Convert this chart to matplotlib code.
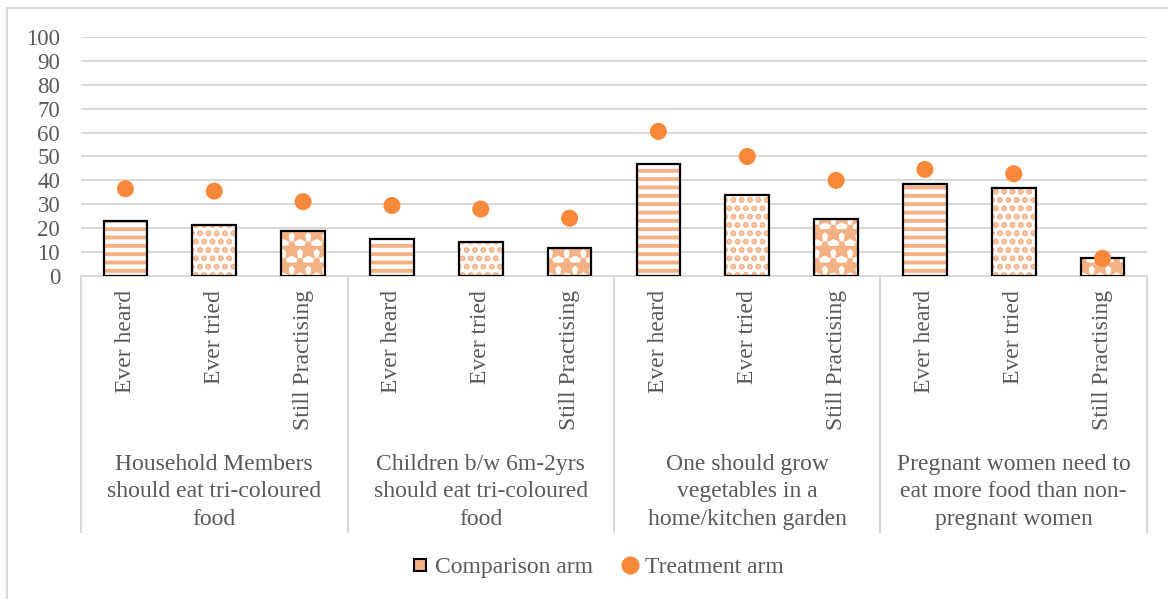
import matplotlib
matplotlib.use("Agg")
import matplotlib.pyplot as plt
import matplotlib.transforms as mtransforms
from matplotlib.lines import Line2D
from matplotlib.patches import Rectangle
import numpy as np

plt.rcParams['font.family'] = ['Liberation Serif', 'DejaVu Serif']

# data
groups = ["Household Members\nshould eat tri-coloured\nfood",
          "Children b/w 6m-2yrs\nshould eat tri-coloured\nfood",
          "One should grow\nvegetables in a\nhome/kitchen garden",
          "Pregnant women need to\neat more food than non-\npregnant women"]
stages = ["Ever heard", "Ever tried", "Still Practising"]
comparison = [23.0, 21.5, 18.9, 15.5, 14.2, 11.7, 46.7, 33.7, 24.0, 38.6, 36.8, 7.6]
treatment = [36.5, 35.5, 31.1, 29.5, 28.0, 24.2, 60.5, 50.0, 40.0, 44.6, 42.8, 7.4]

text_col = "#595959"
grid_col = "#D9D9D9"
hatch_col = "#F4B183"
dot_col = "#F8893A"
hatches = ["--", "..", "*"]
hatch_lw = [2.8, 3.0, 3.6]
fs = 17

W, H = 1168, 599
fig = plt.figure(figsize=(W / 100, H / 100), dpi=100)
ax = fig.add_axes([81 / W, 1 - 276 / H, (1147 - 81) / W, (276 - 37) / H])

x = np.arange(len(comparison))
labels = stages * len(groups)

# bars: hatch fill first, then black outline on top
for k in range(3):
    idx = x[k::3]
    vals = np.array(comparison)[k::3]
    with plt.rc_context({'hatch.linewidth': hatch_lw[k]}):
        ax.bar(idx, vals, width=0.49, facecolor="white", edgecolor=hatch_col,
               hatch=hatches[k], linewidth=0, zorder=2)
    ax.bar(idx, vals, width=0.49, fill=False, edgecolor="black",
           linewidth=1.6, zorder=3)

ax.scatter(x, treatment, s=150, color=dot_col, edgecolors="none", zorder=4)

ax.set_xlim(-0.5, len(x) - 0.5)
ax.set_ylim(0, 100)
ax.set_yticks(range(0, 101, 10))
ax.yaxis.grid(True, color=grid_col, linewidth=1.5)
ax.set_axisbelow(True)
for s in ["top", "right", "left"]:
    ax.spines[s].set_visible(False)
ax.spines["bottom"].set_color(grid_col)
ax.spines["bottom"].set_linewidth(1.5)
ax.tick_params(axis="y", length=0, pad=15, labelsize=16.5, labelcolor=text_col)
ax.set_xticks(x)
ax.set_xticklabels(labels, rotation=90, va="top", ha="center")
ax.tick_params(axis="x", length=0, pad=10, labelsize=fs, labelcolor=text_col)

# group separators and group labels under the rotated ticks
trans = mtransforms.blended_transform_factory(ax.transData, ax.transAxes)
y_low = (276 - 532) / (276 - 37)
for b in np.arange(-0.5, len(x), 3):
    ax.plot([b, b], [0, y_low], transform=trans, color=grid_col,
            linewidth=1.5, clip_on=False)
y_grp = (276 - 454) / (276 - 37)
for g, name in enumerate(groups):
    ax.text(g * 3 + 1, y_grp, name, transform=trans, ha="center", va="top",
            fontsize=fs, color=text_col, linespacing=1.4)

# outer chart border
fig.patches.append(Rectangle((7 / W, -0.05), 1.2, 1 - 8 / H + 0.05,
                             transform=fig.transFigure, fill=False,
                             edgecolor=grid_col, linewidth=1.5))

handles = [Line2D([], [], marker="s", linestyle="none", markersize=9,
                  markerfacecolor=hatch_col, markeredgecolor="black", markeredgewidth=1.5),
           Line2D([], [], marker="o", linestyle="none", markersize=13,
                  markerfacecolor=dot_col, markeredgecolor="none")]
fig.legend(handles, ["Comparison arm", "Treatment arm"], loc="center",
           bbox_to_anchor=(596 / W, 1 - 567 / H), ncol=2, frameon=False,
           fontsize=fs, labelcolor=text_col, handletextpad=0.1,
           columnspacing=1.1, handlelength=1.0)

fig.savefig("out.png", dpi=100)
